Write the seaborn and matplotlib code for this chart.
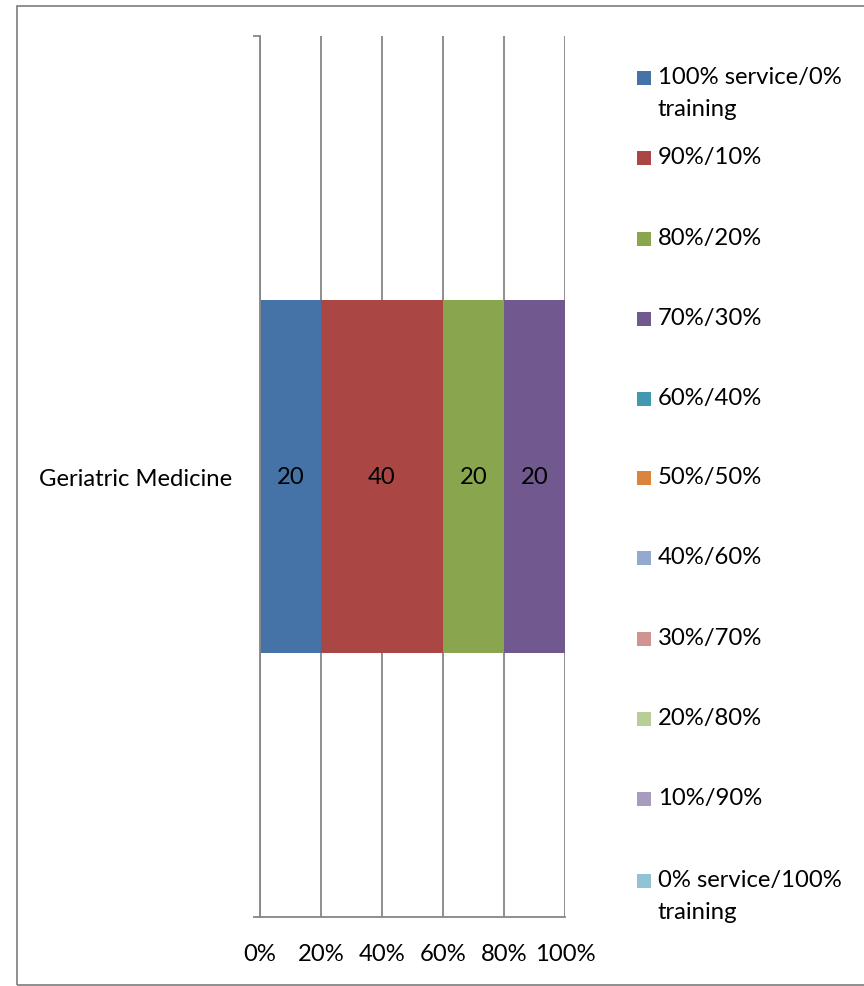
import matplotlib.pyplot as plt
import matplotlib.patches as mpatches
import seaborn as sns
import pandas as pd
import numpy as np

# data
category = ["Geriatric Medicine"]
series = ["100% service/0%\ntraining", "90%/10%", "80%/20%", "70%/30%", "60%/40%",
          "50%/50%", "40%/60%", "30%/70%", "20%/80%", "10%/90%",
          "0% service/100%\ntraining"]
values = [20, 40, 20, 20, 0, 0, 0, 0, 0, 0, 0]
colors = ["#4572A7", "#AA4643", "#89A54E", "#71588F", "#4198AF", "#DB843D",
          "#93A9CF", "#D19392", "#B9CD96", "#A99BBD", "#92C3D5"]
xticks = [0, 20, 40, 60, 80, 100]
xticklabels = ["0%", "20%", "40%", "60%", "80%", "100%"]

sns.set_style("white")
plt.rcParams["font.family"] = ["Lato", "DejaVu Sans"]
plt.rcParams["text.color"] = "black"
plt.rcParams["xtick.labelcolor"] = "black"
plt.rcParams["ytick.labelcolor"] = "black"
FS = 17.2

fig = plt.figure(figsize=(8.64, 9.87), dpi=100)
ax = fig.add_axes([0.3009, 0.0699, 0.353, 0.8926])

cum = np.cumsum(values)
df = pd.DataFrame({"cat": category * len(series), "series": series, "cum": cum})

# stacked bars drawn back to front as cumulative totals
for i in reversed(range(len(series))):
    sns.barplot(data=df.iloc[[i]], x="cum", y="cat", color=colors[i], width=0.4,
                saturation=1, orient="h", ax=ax, zorder=2, linewidth=0)

# value labels at segment centres
starts = cum - np.array(values)
for v, s in zip(values, starts):
    if v > 0:
        ax.text(s + v / 2, 0, str(v), ha="center", va="center", fontsize=FS,
                color="black", zorder=3)

ax.set_xlim(0, 100)
ax.set_ylim(0.5, -0.5)
ax.set_xticks(xticks)
ax.set_xticklabels(xticklabels, fontsize=FS)
ax.set_yticks([-0.5, 0.5], minor=True)
ax.set_yticks([0])
ax.set_yticklabels(category, fontsize=FS)
ax.set_xlabel("")
ax.set_ylabel("")
ax.grid(axis="x", color="#868686", linewidth=1.3, zorder=1)
ax.grid(axis="y", visible=False)
for side in ["top", "right"]:
    ax.spines[side].set_visible(False)
for side in ["left", "bottom"]:
    ax.spines[side].set_color("#868686")
    ax.spines[side].set_linewidth(1.3)
ax.tick_params(axis="x", which="major", length=5, color="#868686", width=1.3, pad=14,
               labelcolor="black")
ax.tick_params(axis="y", which="major", length=0, pad=20, labelcolor="black")
ax.tick_params(axis="y", which="minor", length=5, color="#868686", width=1.3, left=True)
ax.tick_params(axis="x", which="minor", bottom=False)

# legend drawn as squares and text to match Excel spacing
leg_y = [79, 159, 240, 320, 400, 479, 559, 640, 720, 800, 882]
for lab, col, y in zip(series, colors, leg_y):
    fig.add_artist(mpatches.Rectangle((637 / 864, 1 - (y + 7) / 987), 14 / 864, 14 / 987,
                                      transform=fig.transFigure, facecolor=col,
                                      edgecolor="none"))
    fig.text(658 / 864, 1 - (y - 12) / 987, lab, ha="left", va="top", fontsize=FS,
             linespacing=1.62, color="black")

# chart border
fig.add_artist(mpatches.Rectangle((17 / 864, 1 - 986 / 987), 1.0, (986 - 7) / 987,
                                  transform=fig.transFigure, fill=False,
                                  edgecolor="#868686", linewidth=1.3))

fig.savefig("out.png", dpi=100)
